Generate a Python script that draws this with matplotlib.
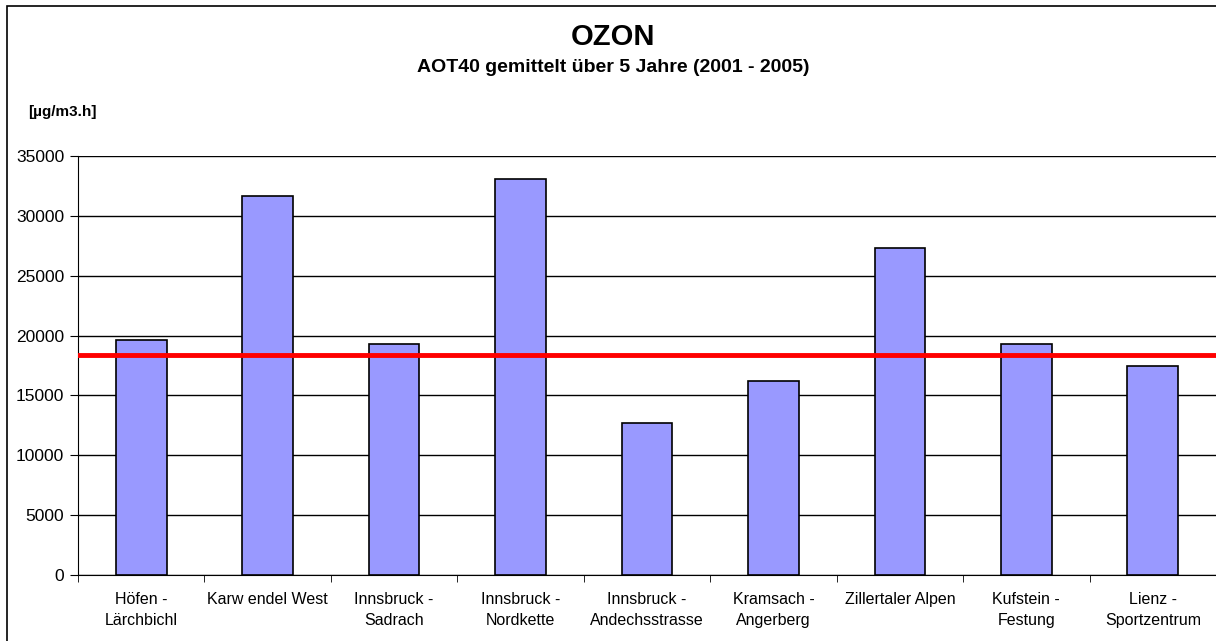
import matplotlib.pyplot as plt
from matplotlib.patches import Rectangle

plt.rcParams['font.family'] = ['Liberation Sans', 'DejaVu Sans']

stations = ['Höfen -\nLärchbichl', 'Karw endel West', 'Innsbruck -\nSadrach',
            'Innsbruck -\nNordkette', 'Innsbruck -\nAndechsstrasse', 'Kramsach -\nAngerberg',
            'Zillertaler Alpen', 'Kufstein -\nFestung', 'Lienz -\nSportzentrum']
aot40 = [19650, 31700, 19300, 33100, 12700, 16200, 27350, 19280, 17430]
target = 18400
yticks = [0, 5000, 10000, 15000, 20000, 25000, 30000, 35000]

fig = plt.figure(figsize=(12.16, 6.41), dpi=100)
ax = fig.add_axes([78 / 1216, 66 / 641, 1 - 78 / 1216, 419 / 641])

x = range(len(stations))
ax.bar(x, aot40, width=0.4, color='#9999FF', edgecolor='black', linewidth=1.2, zorder=3)
ax.axhline(target, color='#FF0000', linewidth=3.5, zorder=4)

ax.set_xlim(-0.5, len(stations) - 0.5)
ax.set_ylim(0, 35000)
ax.set_yticks(yticks)
ax.set_yticklabels([str(v) for v in yticks], fontsize=12.5)
ax.set_xticks(list(x))
ax.set_xticklabels(stations, fontsize=11.5, linespacing=1.55)
ax.tick_params(axis='x', length=0, pad=12)
ax.set_xticks([i - 0.5 for i in range(len(stations) + 1)], minor=True)
ax.tick_params(axis='x', which='minor', length=5, direction='out')
ax.tick_params(axis='y', length=6, direction='out', pad=4)
ax.grid(axis='y', color='black', linewidth=1, zorder=0)

for s in ['top', 'right']:
    ax.spines[s].set_visible(False)

fig.text(613 / 1216, 1 - 37 / 641, 'OZON', fontsize=21, fontweight='bold', ha='center', va='center')
fig.text(613 / 1216, 1 - 68 / 641, 'AOT40 gemittelt über 5 Jahre (2001 - 2005)',
         fontsize=14, fontweight='bold', ha='center', va='center')
fig.text(28 / 1216, 1 - 112 / 641, '[µg/m3.h]', fontsize=11, fontweight='bold', ha='left', va='center')

fig.patches.append(Rectangle((7 / 1216, -0.1), 1.2, 1 - 6 / 641 + 0.1, transform=fig.transFigure,
                             fill=False, edgecolor='black', linewidth=1.2))

fig.savefig('out.png', dpi=100)
